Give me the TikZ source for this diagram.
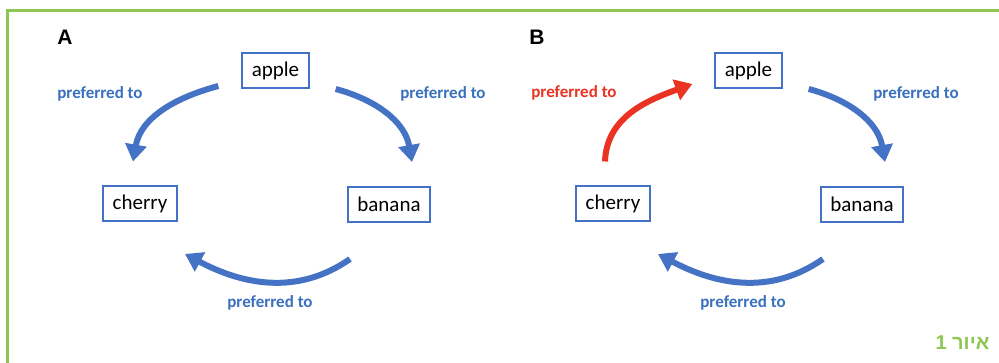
\documentclass[tikz,border=0pt]{standalone}
\usepackage{fontspec}
\setmainfont{Carlito}
\newfontfamily\headfont{Liberation Sans}
\newfontfamily\hebfont[Script=Hebrew]{Liberation Sans}
\TeXXeTstate=1
\usepackage{xcolor}
\usetikzlibrary{arrows.meta}
\definecolor{prefblue}{RGB}{68,114,196}
\definecolor{preftext}{RGB}{58,112,190}
\definecolor{prefred}{RGB}{234,51,35}
\definecolor{framegreen}{RGB}{141,198,82}

\begin{document}
\begin{tikzpicture}[x=1pt, y=1pt,
  fruit/.style={draw=prefblue, line width=2pt, inner xsep=9.5pt, minimum height=35pt,
    font=\fontsize{21}{25}\selectfont},
  pref/.style={prefblue, line width=6pt, -{Triangle[length=17pt,width=21pt]}},
  preflabel/.style={text=preftext, font=\fontsize{17}{20}\selectfont\bfseries},
  panel/.style={anchor=base, font=\headfont\fontsize{21}{25}\selectfont\bfseries}]
\useasboundingbox (0,0) rectangle (999,363);

% 1. Frame -- only top and left edges show
\draw[framegreen, line width=3pt] (7.5,0) -- (7.5,352.5) -- (999,352.5);

% 2. Fruit boxes and labels, one set per panel
\foreach \p/\dx in {a/0, b/473} {
  \node[fruit] (\p-apple)  at (275.5+\dx, 292)   {apple};
  \node[fruit] (\p-cherry) at (140+\dx, 159.5)   {cherry};
  \node[fruit] (\p-banana) at (389+\dx, 158.5)   {banana};
  \node[preflabel] (\p-lblright)  at (443+\dx, 269) {preferred to};
  \node[preflabel] (\p-lblbottom) at (270+\dx, 60)  {preferred to};
}
\node[panel] (a-head) at (65, 318)  {A};
\node[panel] (b-head) at (537, 318) {B};

% 3. Arrows shared by both panels
\foreach \p in {a,b} {
  \draw[pref] ([xshift=26pt,yshift=-18pt]\p-apple.east)
    to[out=-15, in=100] ([xshift=23pt,yshift=24pt]\p-banana.north);
  \draw[pref] ([xshift=-39pt,yshift=-36pt]\p-banana.south)
    to[out=215, in=-28] ([xshift=45pt,yshift=-32pt]\p-cherry.south);
}

% 4. Left arrows: A goes apple -> cherry, B is reversed in red
\node[preflabel] (a-lblleft) at (100, 269) {preferred to};
\draw[pref] ([xshift=-23pt,yshift=-15pt]a-apple.west)
  to[out=195, in=80] ([xshift=-7pt,yshift=23.5pt]a-cherry.north);

\node[preflabel, text=prefred] (b-lblleft) at (574, 270) {preferred to};
\draw[pref, prefred] ([xshift=-8pt,yshift=23.5pt]b-cherry.north)
  to[out=88, in=200] ([xshift=-22pt,yshift=-13pt]b-apple.west);

% 5. Caption
\node[anchor=base east, text=framegreen, font=\hebfont\fontsize{20}{24}\selectfont\bfseries]
  (caption) at (993, 13) {\beginR איור 1\endR};

\end{tikzpicture}
\end{document}
